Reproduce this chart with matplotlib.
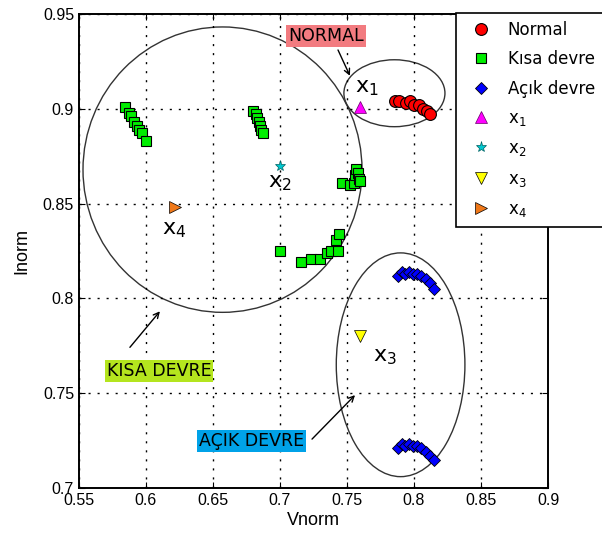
import matplotlib.pyplot as plt
from matplotlib.patches import Ellipse

plt.rcParams['mathtext.fontset'] = 'dejavusans'

# Normal
normal_v = [0.786, 0.789, 0.794, 0.797, 0.800, 0.804, 0.807, 0.810, 0.812]
normal_i = [0.904, 0.904, 0.903, 0.904, 0.902, 0.902, 0.900, 0.899, 0.897]

# Kisa devre (short circuit), four groups
kisa_v = [0.584, 0.587, 0.589, 0.591, 0.593, 0.595, 0.597, 0.600,
          0.680, 0.682, 0.683, 0.684, 0.685, 0.686, 0.687,
          0.746, 0.752, 0.755, 0.756, 0.757, 0.758, 0.759, 0.760,
          0.700, 0.716, 0.723, 0.730, 0.735, 0.738, 0.743, 0.742, 0.744]
kisa_i = [0.901, 0.898, 0.896, 0.893, 0.891, 0.889, 0.887, 0.883,
          0.899, 0.897, 0.895, 0.893, 0.891, 0.889, 0.887,
          0.861, 0.860, 0.861, 0.865, 0.868, 0.866, 0.863, 0.862,
          0.825, 0.819, 0.821, 0.821, 0.824, 0.825, 0.825, 0.831, 0.834]

# Acik devre (open circuit), two groups
acik_v = [0.788, 0.791, 0.793, 0.796, 0.799, 0.802, 0.805, 0.809, 0.812, 0.815,
          0.788, 0.791, 0.793, 0.796, 0.799, 0.802, 0.805, 0.809, 0.812, 0.815]
acik_i = [0.812, 0.814, 0.813, 0.814, 0.813, 0.813, 0.812, 0.810, 0.808, 0.805,
          0.721, 0.723, 0.722, 0.723, 0.722, 0.722, 0.721, 0.719, 0.717, 0.715]

# test points
x1 = (0.760, 0.901)
x2 = (0.700, 0.870)
x3 = (0.760, 0.780)
x4 = (0.622, 0.848)

fig = plt.figure(figsize=(6.02, 5.37), dpi=100)
ax = fig.add_axes([0.1312, 0.0912, 0.7791, 0.8828])

ax.plot(normal_v, normal_i, 'o', ms=8.5, mfc='#ff0000', mec='k', mew=0.8, label='Normal')
ax.plot(kisa_v, kisa_i, 's', ms=7.5, mfc='#00ee00', mec='k', mew=0.8, label='Kısa devre')
ax.plot(acik_v, acik_i, 'D', ms=6.5, mfc='#0000ff', mec='k', mew=0.6, label='Açık devre')
ax.plot(*x1, '^', ms=9, mfc='#ff00ff', mec='#660066', mew=0.5, label='x$_1$')
ax.plot(*x2, '*', ms=8, mfc='#00c8d0', mec='#006060', mew=0.5, label='x$_2$')
ax.plot(*x3, 'v', ms=9, mfc='#ffff00', mec='k', mew=0.5, label='x$_3$')
ax.plot(*x4, '>', ms=8, mfc='#f07818', mec='k', mew=0.5, label='x$_4$')

# cluster ellipses
ax.add_patch(Ellipse((0.6571, 0.8679), 0.2082, 0.1505, fill=False, ec='#333333', lw=1.0))
ax.add_patch(Ellipse((0.7854, 0.9082), 0.0754, 0.0353, fill=False, ec='#333333', lw=1.0))
ax.add_patch(Ellipse((0.7900, 0.7650), 0.0960, 0.1180, fill=False, ec='#333333', lw=1.0))

# point labels
for txt, (px, py) in zip(['x$_1$', 'x$_2$', 'x$_3$', 'x$_4$'],
                         [(0.756, 0.9084), (0.691, 0.8584), (0.7694, 0.7668), (0.6119, 0.8337)]):
    ax.text(px, py, txt, fontsize=16, ha='left', va='baseline')

# class annotations
arrow = dict(arrowstyle='->', color='k', lw=1.0, shrinkA=0, shrinkB=0)
ax.annotate('', xy=(0.7522, 0.9174), xytext=(0.7433, 0.931), arrowprops=arrow)
ax.text(0.7343, 0.9384, 'NORMAL', fontsize=12.5, ha='center', va='center',
        bbox=dict(boxstyle='square,pad=0.12', fc='#f27b80', ec='none'))
ax.annotate('', xy=(0.6104, 0.7932), xytext=(0.588, 0.7742), arrowprops=arrow)
ax.text(0.6097, 0.7618, 'KISA DEVRE', fontsize=12.5, ha='center', va='center',
        bbox=dict(boxstyle='square,pad=0.12', fc='#b4e51e', ec='none'))
ax.annotate('', xy=(0.756, 0.749), xytext=(0.7239, 0.7258), arrowprops=arrow)
ax.text(0.6789, 0.7250, 'AÇIK DEVRE', fontsize=12.5, ha='center', va='center',
        bbox=dict(boxstyle='square,pad=0.12', fc='#00a2e8', ec='none'))

ax.set_xlim(0.55, 0.9)
ax.set_ylim(0.7, 0.95)
ax.set_xticks([0.55, 0.6, 0.65, 0.7, 0.75, 0.8, 0.85, 0.9])
ax.set_xticklabels(['0.55', '0.6', '0.65', '0.7', '0.75', '0.8', '0.85', '0.9'])
ax.set_yticks([0.7, 0.75, 0.8, 0.85, 0.9, 0.95])
ax.set_yticklabels(['0.7', '0.75', '0.8', '0.85', '0.9', '0.95'])
ax.tick_params(direction='in', top=True, right=True, length=4, labelsize=11.5)
for lab in ax.get_xticklabels() + ax.get_yticklabels():
    lab.set_family('Liberation Sans')
ax.grid(True, color='k', linestyle=(0, (1.5, 5)), lw=1.0)
for s in ax.spines.values():
    s.set_linewidth(1.4)

ax.set_xlabel('Vnorm', fontsize=13, family='Liberation Sans', labelpad=3)
ax.set_ylabel('Inorm', fontsize=13, family='Liberation Sans', labelpad=9)

leg = ax.legend(loc='upper left', bbox_to_anchor=(0.804, 1.003), fontsize=12,
                fancybox=False, framealpha=1, edgecolor='k', borderaxespad=0,
                handletextpad=0.6, labelspacing=0.68, borderpad=0.5)
leg.get_frame().set_linewidth(1.2)

fig.savefig('out.png', dpi=100)
